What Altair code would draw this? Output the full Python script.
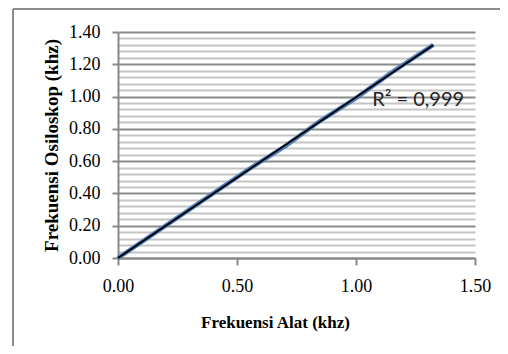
import altair as alt
import pandas as pd

# Measured data (kHz)
freq_alat = [0.0, 0.10, 0.25, 0.40, 0.55, 0.70, 0.85, 1.00, 1.15, 1.325]
freq_osiloskop = [0.0, 0.10, 0.25, 0.40, 0.55, 0.69, 0.85, 0.99, 1.15, 1.32]

# Axis ticks
x_ticks = [0.0, 0.5, 1.0, 1.5]
y_ticks_major = [0.0, 0.2, 0.4, 0.6, 0.8, 1.0, 1.2, 1.4]
y_grid = [round(i * 0.04, 2) for i in range(36)]

# R² annotation
label_text = ["R\u00b2 = 0,999"]
label_x = [1.068]
label_y = [0.943]

df = pd.DataFrame({"x": freq_alat, "y": freq_osiloskop})
lab = pd.DataFrame({"x": label_x, "y": label_y, "t": label_text})
dummy = pd.DataFrame({"a": [0]})

is_major = "abs(datum.value*5 - round(datum.value*5)) < 0.000001"

xscale = alt.Scale(domain=[0, 1.5], nice=False, zero=False)
yscale = alt.Scale(domain=[0, 1.4], nice=False, zero=False)

x_axis = alt.Axis(
    values=x_ticks, format=".2f", grid=False, labelFlush=False,
    domainColor="#888888", domainWidth=2,
    tickColor="#888888", tickWidth=2, tickSize=7,
    labelFont="Liberation Serif", labelFontSize=18, labelColor="#000000",
    labelBaseline="alphabetic", labelPadding=26,
    title="Frekuensi Alat (khz)",
    titleFont="Liberation Serif", titleFontSize=17, titleFontWeight="bold",
    titleColor="#000000", titleX=157, titleY=69, titleAlign="center",
    titleBaseline="alphabetic",
)

y_axis = alt.Axis(
    values=y_grid, labelFlush=False,
    labelExpr=f"({is_major}) ? format(datum.value, '.2f') : ''",
    grid=True,
    gridColor=alt.condition(is_major, alt.value("#8a8a8a"), alt.value("#c4c4c4")),
    gridWidth=1.8,
    domainColor="#888888", domainWidth=2,
    tickColor="#888888", tickWidth=2, tickSize=6,
    tickOpacity=alt.condition(is_major, alt.value(1), alt.value(0)),
    labelFont="Liberation Serif", labelFontSize=18, labelColor="#000000",
    labelBaseline="middle", labelPadding=12, labelOverlap=False,
    title="Frekuensi Osiloskop (khz)",
    titleFont="Liberation Serif", titleFontSize=19, titleFontWeight="bold",
    titleColor="#000000", titleX=-61, titleY=113, titleAngle=-90,
    titleAlign="center", titleBaseline="alphabetic",
)

X = alt.X("x:Q", scale=xscale, axis=x_axis)
Y = alt.Y("y:Q", scale=yscale, axis=y_axis)

data_line = alt.Chart(df).mark_line(color="#4f81bd", strokeWidth=4.5).encode(x=X, y=Y)

trend = alt.Chart(df).transform_regression("x", "y").mark_line(
    color="#000000", strokeWidth=2
).encode(x=X, y=Y)

label = alt.Chart(lab).mark_text(
    font="Lato", fontSize=20, color="#222222", align="left", baseline="alphabetic"
).encode(x=X, y=Y, text="t:N")

border_left = alt.Chart(dummy).mark_rule(color="#8c8c8c", strokeWidth=2).encode(
    x=alt.value(-105), y=alt.value(-23), y2=alt.value(330)
)
border_top = alt.Chart(dummy).mark_rule(color="#8c8c8c", strokeWidth=2).encode(
    x=alt.value(-105), x2=alt.value(400), y=alt.value(-23)
)

chart = alt.layer(data_line, trend, label, border_left, border_top).properties(
    width=357,
    height=226,
    autosize=alt.AutoSizeParams(type="none"),
    padding={"left": 110, "top": 24, "right": 25, "bottom": 88},
    background="#ffffff",
).configure_view(stroke=None)

chart.save("out.html", embed_options={"renderer": "svg", "actions": False})
